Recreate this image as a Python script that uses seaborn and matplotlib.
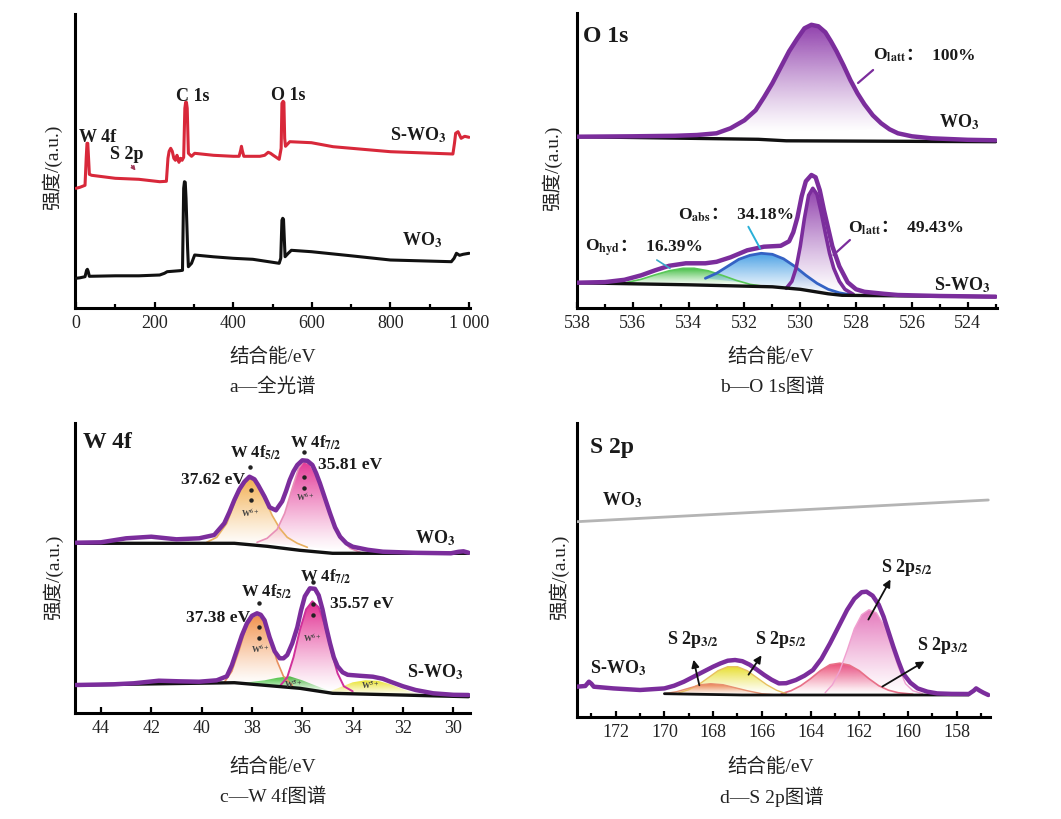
import numpy as np
import matplotlib
matplotlib.use('Agg')
import matplotlib.pyplot as plt
import matplotlib.colors as mcolors
from matplotlib.offsetbox import TextArea, HPacker, AnnotationBbox
import seaborn as sns

# ---------------- data ----------------
# a: survey
survey_s_ev = [0, 10, 23, 26, 28, 30, 32, 34, 40, 100, 160, 213, 230, 234, 237, 241, 245, 249, 253, 257,
               262, 266, 270, 274, 277, 279, 281, 283, 286, 294, 302, 350, 400, 415, 419, 421, 423, 427,
               468, 480, 489, 495, 502, 517, 522, 524, 527, 529, 531, 533, 544, 599, 654, 800, 959, 963,
               966, 972, 980, 989, 1000]
survey_s_int = [120, 121, 123, 150, 165, 165, 150, 134, 133, 130, 129, 126.6, 127, 150, 157, 160, 157, 150,
                148, 153, 146, 150, 148, 151, 200, 206, 206, 200, 155, 152, 155, 153, 152, 152, 158, 162,
                158, 152, 152, 153, 156, 155, 153, 149, 160, 205, 207, 206, 170, 162, 166.6, 165.6, 161.6,
                156.6, 154.3, 165, 175, 176.6, 170, 172, 171]
survey_w_ev = [0, 10, 23, 27, 29, 31, 34, 100, 160, 213, 225, 232, 264, 271, 274, 276, 278, 280, 282, 284,
               286, 294, 302, 350, 400, 450, 517, 521, 524, 526, 528, 530, 532, 540, 548, 599, 700, 800,
               955, 962, 968, 976, 985, 1000]
survey_w_int = [30, 30.5, 31.6, 38, 39, 37, 32, 32.5, 32.5, 33.3, 35, 36.6, 37.6, 38, 120, 126.6, 126, 110,
                85, 60, 41.6, 45, 53.3, 51.5, 50, 49, 45, 50, 88, 90, 89, 70, 51.6, 55, 58, 56.6, 52.5,
                48.3, 46.6, 50, 55, 53, 54, 55]

# b: O 1s
o_w_ev = [538, 536, 534.5, 533.7, 533, 532.5, 532, 531.6, 531.3, 531, 530.7, 530.4, 530.1, 529.85, 529.6,
          529.35, 529.1, 528.9, 528.7, 528.45, 528.2, 527.95, 527.7, 527.4, 527.1, 526.8, 526.5, 526,
          525.3, 524, 523]
o_w_env = [171.6, 172, 172.5, 173.3, 175, 180, 188, 198, 211, 225, 241, 257, 270, 280, 283.5, 282, 276,
           267, 257, 243, 228, 215, 204, 193, 185, 179, 175, 172, 170, 168.5, 168]
o_w_base_ev = [538, 531.5, 530.5, 523]
o_w_base = [171.6, 169, 167.5, 166.6]

o_s_ev = [538, 537, 536.3, 535.7, 535.2, 534.7, 534.1, 533.4, 533, 532.5, 531.9, 531.3, 530.7, 530.4,
          530.25, 530.1, 529.95, 529.8, 529.6, 529.45, 529.3, 529.15, 529, 528.85, 528.6, 528.3, 528,
          527.7, 527, 526.5, 525, 523]
o_s_env = [25.6, 26.2, 28.5, 33, 38, 42.5, 45, 45, 46.5, 51, 58, 61.6, 62.5, 67, 76, 91, 112, 127, 133.3,
           131, 118, 98, 80, 62, 42, 26, 19, 16.5, 14.5, 13.3, 12.3, 11.6]
o_s_base_ev = [538, 534, 531, 530, 529, 528.5, 523]
o_s_base = [25.5, 23.5, 21.5, 19, 14.5, 13, 11.6]
o_latt_ev = [530.5, 530.3, 530.15, 530.0, 529.85, 529.7, 529.55, 529.4, 529.25, 529.1, 528.95, 528.8,
             528.6, 528.4, 528.1]
o_latt = [20, 27, 40, 62, 90, 113, 120, 114, 96, 75, 55, 40, 27, 19, 14]
o_abs_ev = [533.4, 533, 532.6, 532.2, 531.8, 531.4, 531.0, 530.6, 530.2, 529.8, 529.4, 529.0, 528.6, 528.2]
o_abs = [30, 35, 42, 49, 53, 55, 54, 49.5, 42, 33, 25, 19, 15.5, 13.5]
o_hyd_ev = [536.2, 535.7, 535.2, 534.7, 534.2, 533.8, 533.3, 532.8, 532.3, 531.8, 531.3]
o_hyd = [26, 29, 33.5, 37.5, 40, 40, 37.5, 33, 28, 24, 22]

# c: W 4f
w_w_ev = [45, 44, 43, 42, 41, 40.1, 39.5, 39.1, 38.9, 38.7, 38.5, 38.3, 38.1, 37.9, 37.75, 37.5, 37.3,
          37.05, 36.8, 36.65, 36.5, 36.35, 36.2, 36.0, 35.8, 35.6, 35.45, 35.3, 35.1, 34.9, 34.7, 34.5,
          34.25, 34.0, 33.4, 32.8, 31.5, 30.1, 29.8, 29.6, 29.4]
w_w_env = [170.6, 171, 175, 176.6, 174, 175, 178.3, 190, 201, 213.3, 224, 231.6, 236.6, 234, 228, 216.6,
           206, 203, 212, 222, 233.3, 242, 248.3, 253, 252.5, 248.3, 240, 230, 215, 200, 186, 176.6, 170,
           166.6, 163.5, 161.6, 160.5, 160, 161.5, 162, 160.6]
w_w_base_ev = [45, 38.7, 37.4, 36.1, 34.8, 29.4]
w_w_base = [170, 170, 167, 163, 160, 160]
w_w_f52_ev = [39.8, 39.4, 39.0, 38.7, 38.4, 38.1, 37.8, 37.5, 37.2, 36.9, 36.6, 36.2, 35.8]
w_w_f52 = [171, 176, 190, 210, 228, 235, 230, 215, 198, 185, 176, 170, 166]
w_w_f72_ev = [37.8, 37.4, 37.0, 36.7, 36.4, 36.15, 35.95, 35.7, 35.45, 35.2, 34.95, 34.7, 34.45, 34.1, 33.7]
w_w_f72 = [171, 175, 184, 200, 225, 245, 252, 249, 238, 222, 203, 186, 174, 165, 161]

w_s_ev = [45, 43.5, 42.7, 41.7, 40.9, 40.1, 39.4, 39.0, 38.8, 38.6, 38.4, 38.2, 38.0, 37.8, 37.65, 37.5,
          37.3, 37.1, 36.9, 36.75, 36.6, 36.4, 36.2, 36.05, 35.9, 35.7, 35.5, 35.35, 35.2, 35.05, 34.9,
          34.75, 34.6, 34.4, 34.2, 33.7, 33.2, 32.8, 32.5, 32.0, 31.5, 30.8, 30.0, 29.4]
w_s_env = [28.3, 29, 30, 32.6, 32, 31.6, 33, 37, 48, 63, 78, 90, 97.5, 100, 98.5, 93, 76, 62, 55, 55, 58.3,
           70, 86, 103, 117, 125, 124.5, 118, 104, 86, 70, 56, 47, 41, 38.5, 37.5, 36.6, 34.5, 31.6, 27,
           23.3, 20, 18.5, 18.3]
w_s_base_ev = [45, 38.7, 36.1, 34.8, 29.4]
w_s_base = [28.3, 30.6, 25, 20, 16.6]
w_s_f52_ev = [39.1, 38.8, 38.5, 38.25, 38.0, 37.75, 37.5, 37.25, 37.0, 36.75, 36.4]
w_s_f52 = [31, 42, 64, 85, 95, 97, 90, 73, 52, 37, 28]
w_s_f72_ev = [36.9, 36.6, 36.35, 36.1, 35.85, 35.6, 35.35, 35.1, 34.85, 34.6, 34.35, 34.0]
w_s_f72 = [27, 36, 56, 83, 104, 112, 106, 88, 62, 40, 27, 22]
w_s_w5a_ev = [38.5, 38.0, 37.5, 37.0, 36.5, 36.0, 35.5, 35.0, 34.6]
w_s_w5a = [30, 31.5, 33, 35.5, 37, 33, 28, 23, 20]
w_s_w5b_ev = [35.0, 34.5, 34.0, 33.5, 33.0, 32.5, 32.0, 31.5, 31.0]
w_s_w5b = [21, 26, 31, 33, 32.5, 29, 24, 20, 17.5]

# d: S 2p
s_w_ev = [173.6, 156.7]
s_w_int = [195, 216.7]
s_s_ev = [173.6, 173.25, 173.1, 173.0, 172.9, 172.1, 171.0, 170.0, 169.6, 169.2, 168.8, 168.4, 168.0,
          167.7, 167.4, 167.1, 166.8, 166.5, 166.2, 165.9, 165.6, 165.3, 165.0, 164.6, 164.25, 163.9,
          163.55, 163.2, 162.85, 162.5, 162.2, 161.9, 161.7, 161.45, 161.2, 161.0, 160.8, 160.6, 160.4,
          160.2, 159.9, 159.6, 159.2, 158.8, 158.2, 157.5, 157.3, 157.2, 157.05, 156.9, 156.7]
s_s_env = [30, 30.7, 35, 33, 30, 28.3, 26.7, 28.3, 31, 35, 40, 45, 50, 53.3, 56, 56.7, 55.5, 52, 47, 41.7,
           37, 33.3, 33.5, 36.7, 41, 46.7, 58, 73.3, 90, 106.7, 118, 124.5, 125, 121, 112, 100, 85, 70,
           56, 43.3, 34, 28.3, 25, 23.3, 22.8, 22.7, 26, 28.3, 26, 24, 21.7]
s_s_base_ev = [170.0, 166.8, 157.5]
s_s_base = [23, 21.7, 21.7]
s_p32a_ev = [170.0, 169.5, 169.0, 168.5, 168.1, 167.6, 167.1, 166.6, 166.0, 165.5]
s_p32a = [23, 25, 28.5, 32, 33, 32, 29, 26, 23, 22]
s_p52a_ev = [169.4, 169.0, 168.6, 168.2, 167.8, 167.4, 167.0, 166.6, 166.2, 165.8, 165.4, 165.0]
s_p52a = [24, 27, 32, 39, 46, 50, 50, 46, 39, 32, 26.5, 23]
s_p32b_ev = [165.2, 164.8, 164.4, 164.0, 163.6, 163.2, 162.8, 162.4, 162.0, 161.6, 161.2, 160.8, 160.4, 159.8]
s_p32b = [23, 26, 31, 38, 46, 52, 53.5, 51.5, 46, 38, 31, 26.5, 24, 22.5]
s_p52b_ev = [163.4, 163.1, 162.8, 162.5, 162.2, 161.9, 161.6, 161.3, 161.0, 160.7, 160.4, 160.1, 159.8, 159.4]
s_p52b = [24, 32, 46, 66, 88, 102, 107, 104, 92, 72, 50, 33, 26, 23]

# ---------------- style ----------------
sns.set_theme(style='ticks')
plt.rcParams['font.family'] = ['Liberation Serif', 'Noto Sans CJK SC']
plt.rcParams['mathtext.fontset'] = 'stix'
plt.rcParams['axes.unicode_minus'] = False

PURPLE = '#7b2d9c'
W, H = 1061, 819
fig = plt.figure(figsize=(10.61, 8.19), dpi=100)


def add(l, t, r, b):
    return fig.add_axes([l / W, 1 - b / H, (r - l) / W, (b - t) / H])


def line(ax, x, y, color, lw, z=5):
    sns.lineplot(x=x, y=y, ax=ax, color=color, linewidth=lw, sort=False, estimator=None, zorder=z)


def grad(ax, x, y, color, z=2, amax=0.95):
    poly = ax.fill(x, y, facecolor='none', edgecolor='none')[0]
    rgba = np.zeros((256, 1, 4))
    rgba[..., :3] = mcolors.to_rgb(color)
    rgba[..., 3] = (np.linspace(0, 1, 256) ** 1.2 * amax)[:, None]
    im = ax.imshow(rgba, origin='lower', aspect='auto', interpolation='bilinear',
                   extent=[min(x), max(x), min(y), max(y)], zorder=z)
    im.set_clip_path(poly)


def setup(ax, xlim, ylim, major, labels, minor, xl, yl):
    ax.set_xlim(*xlim)
    ax.set_ylim(*ylim)
    ax.set_xticks(major)
    ax.set_xticklabels(labels)
    ax.set_xticks(minor, minor=True)
    ax.set_yticks([])
    for s in ['top', 'right']:
        ax.spines[s].set_visible(False)
    for s in ['left', 'bottom']:
        ax.spines[s].set_linewidth(2.2)
        ax.spines[s].set_color('black')
    ax.tick_params(axis='x', which='both', direction='in', length=4, width=1.6,
                   labelsize=13, pad=5, color='black', labelcolor='#222222')
    ax.tick_params(axis='x', which='minor', length=3)
    ax.set_xlabel('结合能/eV', fontsize=14, color='#222222')
    ax.set_ylabel('强度/(a.u.)', fontsize=14, color='#222222')
    ax.xaxis.set_label_coords(*xl)
    ax.yaxis.set_label_coords(*yl)
    ax.xaxis.label.set_va('center')
    ax.yaxis.label.set_va('center')


def bold(ax, x, y, s, size=13, ha='center', color='#1a1a1a'):
    ax.text(x, y, s, fontsize=size, fontweight='bold', ha=ha, va='center', color=color, zorder=8)


def olabel(ax, x, y, sub, val):
    t1 = TextArea(r'O$_{\mathbf{' + sub + '}}$',
                  textprops=dict(fontsize=12.5, fontweight='bold', color='#1a1a1a'))
    t2 = TextArea('：  ' + val,
                  textprops=dict(fontsize=12.5, fontweight='bold', color='#1a1a1a',
                                 family=['Liberation Serif', 'Noto Sans CJK SC']))
    box = HPacker(children=[t1, t2], align='baseline', pad=0, sep=0)
    ab = AnnotationBbox(box, (x, y), xycoords='data', box_alignment=(0, 0.5),
                        frameon=False, pad=0, zorder=8)
    ax.add_artist(ab)


# ---------------- a ----------------
ax = add(75, 14, 470, 308.3)
line(ax, survey_s_ev, survey_s_int, '#d8283a', 2.2)
line(ax, survey_w_ev, survey_w_int, '#111111', 2.2)
bold(ax, 56, 171, 'W 4f')
bold(ax, 130, 154, 'S 2p')
ax.annotate('', xy=(156, 135.6), xytext=(137, 145),
            arrowprops=dict(arrowstyle='-|>', color='#a03a5a', lw=1, mutation_scale=6))
bold(ax, 296, 211.6, 'C 1s')
bold(ax, 541, 212.6, 'O 1s')
bold(ax, 871, 173.3, r'S-WO$_\mathbf{3}$')
bold(ax, 880, 68.3, r'WO$_\mathbf{3}$')
setup(ax, (-2.5, 1002.5), (0, 294.3), [0, 200, 400, 600, 800, 1000],
      ['0', '200', '400', '600', '800', '1 000'], [100, 300, 500, 700, 900],
      (0.501, -0.165), (-0.058, 0.48))

# ---------------- b ----------------
ax = add(577, 13, 997, 308.3)
grad(ax, o_w_ev[4:26], o_w_env[4:26], '#8a35a8')
line(ax, o_w_base_ev, o_w_base, '#111111', 2.4, 4)
line(ax, o_w_ev, o_w_env, PURPLE, 3.2)
grad(ax, o_hyd_ev, o_hyd, '#30b830', amax=0.9)
line(ax, o_hyd_ev, o_hyd, '#58c858', 1.2, 3)
grad(ax, o_abs_ev, o_abs, '#2a90e0', amax=0.85)
line(ax, o_abs_ev, o_abs, '#3462c4', 2.0, 3)
grad(ax, o_latt_ev, o_latt, '#8a35a8')
line(ax, o_latt_ev, o_latt, PURPLE, 2.6, 3)
line(ax, o_s_base_ev, o_s_base, '#111111', 2.4, 4)
line(ax, o_s_ev, o_s_env, PURPLE, 3.2)
bold(ax, 537.78, 271.3, 'O 1s', size=17, ha='left')
olabel(ax, 527.39, 253, 'latt', '100%')
ax.plot([527.39, 527.93], [238.3, 225.3], color=PURPLE, lw=1.6, zorder=6)
bold(ax, 524.31, 186.3, r'WO$_\mathbf{3}$')
olabel(ax, 534.38, 93.3, 'abs', '34.18%')
ax.plot([531.86, 531.44], [81.6, 60], color='#2ab0d8', lw=1.4, zorder=6)
olabel(ax, 528.29, 80.3, 'latt', '49.43%')
ax.plot([528.22, 528.81], [68.3, 53.3], color=PURPLE, lw=1.6, zorder=6)
olabel(ax, 537.71, 60.3, 'hyd', '16.39%')
ax.plot([535.14, 534.67], [48.3, 40], color='#3aa8c8', lw=1.2, zorder=6)
bold(ax, 524.2, 23.3, r'S-WO$_\mathbf{3}$')
setup(ax, (538, 522.95), (0, 295.3), [538, 536, 534, 532, 530, 528, 526, 524],
      ['538', '536', '534', '532', '530', '528', '526', '524'],
      [537, 535, 533, 531, 529, 527, 525, 523],
      (0.46, -0.165), (-0.06, 0.475))

# ---------------- c ----------------
ax = add(75, 423, 470, 713.3)
grad(ax, w_w_f52_ev, w_w_f52, '#f0a030', amax=0.85)
line(ax, w_w_f52_ev, w_w_f52, '#e8b060', 1.2, 3)
grad(ax, w_w_f72_ev, w_w_f72, '#e0208a', amax=0.9)
line(ax, w_w_f72_ev, w_w_f72, '#e890b8', 1.2, 3)
line(ax, w_w_base_ev, w_w_base, '#111111', 2.4, 4)
line(ax, w_w_ev, w_w_env, PURPLE, 3.2)
grad(ax, w_s_w5a_ev, w_s_w5a, '#2cc02c', amax=0.95)
grad(ax, w_s_w5b_ev, w_s_w5b, '#e8e020', amax=0.95)
grad(ax, w_s_f52_ev, w_s_f52, '#f08030', amax=0.85)
line(ax, w_s_f52_ev, w_s_f52, '#e89060', 1.2, 3)
grad(ax, w_s_f72_ev, w_s_f72, '#e0208a', amax=0.95)
line(ax, w_s_f72_ev, w_s_f72, '#d0309a', 1.4, 3)
line(ax, w_s_base_ev, w_s_base, '#111111', 2.4, 4)
line(ax, w_s_ev, w_s_env, PURPLE, 3.2)
bold(ax, 44.71, 271.3, 'W 4f', size=17, ha='left')
bold(ax, 37.86, 260.3, r'W 4f$_\mathbf{5/2}$', size=12)
bold(ax, 38.28, 233.3, '37.62 eV', size=12.5, ha='right')
bold(ax, 35.45, 270.3, r'W 4f$_\mathbf{7/2}$', size=12)
bold(ax, 35.38, 248.3, '35.81 eV', size=12.5, ha='left')
bold(ax, 37.4, 121.3, r'W 4f$_\mathbf{5/2}$', size=12)
bold(ax, 38.08, 95.3, '37.38 eV', size=12.5, ha='right')
bold(ax, 35.06, 136.3, r'W 4f$_\mathbf{7/2}$', size=12)
bold(ax, 34.9, 109.3, '35.57 eV', size=12.5, ha='left')
ax.plot([38.08, 38.05, 38.05, 35.93, 35.93, 35.93, 37.72, 37.72, 37.72, 35.57, 35.57, 35.57],
        [246.3, 223.3, 213.3, 261.3, 236.3, 225.3, 110.3, 86.3, 75.3, 131.3, 109.3, 98.3],
        'o', ms=2.2, color='#222222', zorder=7)
for x, y in [(38.08, 200.3), (35.89, 216.3), (37.68, 64.3), (35.62, 75)]:
    bold(ax, x, y, r'W$^{\mathbf{6+}}$', size=6, color='#444444')
for x, y in [(36.37, 29.3), (33.31, 28.3)]:
    bold(ax, x, y, r'W$^{\mathbf{5+}}$', size=6, color='#444444')
bold(ax, 30.73, 175.3, r'WO$_\mathbf{3}$')
bold(ax, 30.73, 41.3, r'S-WO$_\mathbf{3}$')
setup(ax, (45.03, 29.34), (0, 290.3), [44, 42, 40, 38, 36, 34, 32, 30],
      ['44', '42', '40', '38', '36', '34', '32', '30'], [],
      (0.501, -0.185), (-0.056, 0.47))

# ---------------- d ----------------
ax = add(577, 423, 990, 716.7)
line(ax, s_w_ev, s_w_int, '#b4b4b4', 2.0)
grad(ax, s_p32b_ev, s_p32b, '#e83060', amax=0.9)
line(ax, s_p32b_ev, s_p32b, '#e87088', 1.2, 3)
grad(ax, s_p52b_ev, s_p52b, '#e060b0', amax=0.85)
line(ax, s_p52b_ev, s_p52b, '#f0a0d0', 1.0, 3)
grad(ax, s_p52a_ev, s_p52a, '#e6dc20', amax=0.95)
line(ax, s_p52a_ev, s_p52a, '#e8c060', 1.0, 3)
grad(ax, s_p32a_ev, s_p32a, '#e86840', amax=0.9)
line(ax, s_p32a_ev, s_p32a, '#e89070', 1.0, 3)
line(ax, s_s_base_ev, s_s_base, '#111111', 2.0, 4)
line(ax, s_s_ev, s_s_env, PURPLE, 3.2)
bold(ax, 173.06, 269.7, 'S 2p', size=17, ha='left')
bold(ax, 171.74, 216.7, r'WO$_\mathbf{3}$')
bold(ax, 171.91, 48.7, r'S-WO$_\mathbf{3}$')
bold(ax, 168.83, 76.7, r'S 2p$_\mathbf{3/2}$')
bold(ax, 165.22, 76.7, r'S 2p$_\mathbf{5/2}$')
bold(ax, 160.04, 149.7, r'S 2p$_\mathbf{5/2}$')
bold(ax, 158.57, 71.7, r'S 2p$_\mathbf{3/2}$')
for tail, head in [((168.54, 28.7), (168.83, 59.7)), ((166.61, 39.7), (165.95, 63.7)),
                   ((161.68, 94.7), (160.66, 139.7)), ((161.15, 28.7), (159.22, 56.7))]:
    ax.annotate('', xy=head, xytext=tail,
                arrowprops=dict(arrowstyle='-|>', color='#111111', lw=1.3, mutation_scale=11),
                zorder=8)
setup(ax, (173.59, 156.63), (0, 293.7), [172, 170, 168, 166, 164, 162, 160, 158],
      ['172', '170', '168', '166', '164', '162', '160', '158'],
      [173, 171, 169, 167, 165, 163, 161, 159, 157],
      (0.47, -0.171), (-0.044, 0.476))

# ---------------- captions ----------------
for x, y, s in [(273, 387, 'a—全光谱'), (772, 387, 'b—O 1s图谱'),
                (273, 797, 'c—W 4f图谱'), (772, 797, 'd—S 2p图谱')]:
    fig.text(x / W, 1 - y / H, s, fontsize=14, ha='center', va='center', color='#222222')

fig.savefig('out.png', dpi=100)
